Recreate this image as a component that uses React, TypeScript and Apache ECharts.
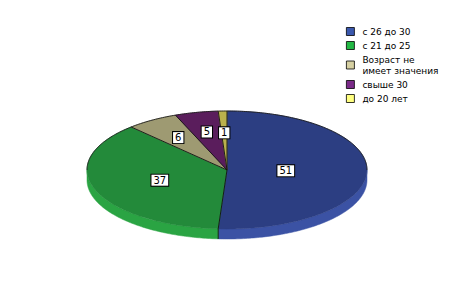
import React, { useEffect, useRef } from "react";
import * as echarts from "echarts";

const categories = ["с 26 до 30", "с 21 до 25", "Возраст не\nимеет значения", "свыше 30", "до 20 лет"];
const values = [51, 37, 6, 5, 1];

const topColors = ["#2c3e82", "#238a3a", "#9e9a72", "#5a1d5c", "#bab14c"];
const sideColors = ["#3b52a4", "#2aa443", "#b6b184", "#6e2570", "#d2c95a"];
const legendColors = ["#3a58ad", "#22b844", "#d6d0a2", "#7a2a88", "#ffff80"];
const labelRadius = [0.42, 0.51, 0.65, 0.66, 0.63];

const CX = 227;
const CY = 170;
const RX = 140;
const RY = 59;
const DEPTH = 10;

export default function App() {
  const ref = useRef<HTMLDivElement>(null);
  useEffect(() => {
    if (!ref.current) return;
    const chart = echarts.init(ref.current, undefined, { renderer: "svg" });
    const total = values.reduce((a, b) => a + b, 0);
    const cum: number[] = [0];
    values.forEach((v, i) => cum.push(cum[i] + v));
    const pt = (t: number, dy = 0) => [CX + RX * Math.sin(t), CY - RY * Math.cos(t) + dy];
    const arc = (a: number, b: number, dy = 0) => {
      const n = Math.max(2, Math.ceil((b - a) / 0.015));
      const out: number[][] = [];
      for (let k = 0; k <= n; k++) out.push(pt(a + ((b - a) * k) / n, dy));
      return out;
    };
    const inFront = (t: number) => {
      const m = ((t % (Math.PI * 2)) + Math.PI * 2) % (Math.PI * 2);
      return m > Math.PI / 2 && m < (Math.PI * 3) / 2;
    };

    const series = categories.map((name, i) => ({
      type: "custom",
      name,
      coordinateSystem: "none",
      data: [values[i]],
      renderItem: () => {
        const a = (cum[i] / total) * Math.PI * 2;
        const b = (cum[i + 1] / total) * Math.PI * 2;
        const children: any[] = [];
        const sa = Math.max(a, Math.PI / 2);
        const sb = Math.min(b, (Math.PI * 3) / 2);
        if (sb > sa) {
          const topArc = arc(sa, sb, 0);
          const botArc = arc(sa, sb, DEPTH).reverse();
          children.push({
            type: "polygon",
            shape: { points: topArc.concat(botArc) },
            style: { fill: sideColors[i], stroke: sideColors[i], lineWidth: 0.5 },
          });
        }
        children.push({
          type: "polygon",
          shape: { points: [[CX, CY]].concat(arc(a, b, 0)) },
          style: { fill: topColors[i], stroke: topColors[i], lineWidth: 0.5 },
        });
        // back outline
        const ba = Math.max(a, (Math.PI * 3) / 2);
        const bb = b;
        if (a < Math.PI / 2) {
          children.push({
            type: "polyline",
            shape: { points: arc(a, Math.min(b, Math.PI / 2), 0) },
            style: { stroke: "#1a1a1a", lineWidth: 0.9, fill: "none" },
          });
        }
        if (bb > ba) {
          children.push({
            type: "polyline",
            shape: { points: arc(ba, bb, 0) },
            style: { stroke: "#1a1a1a", lineWidth: 0.9, fill: "none" },
          });
        }
        // radial edge at start
        const p = pt(a);
        children.push({
          type: "line",
          z2: 10,
          shape: { x1: CX, y1: CY, x2: p[0], y2: p[1] },
          style: { stroke: "#111", lineWidth: 0.9 },
        });
        if (inFront(a)) {
          children.push({
            type: "line",
            z2: 10,
            shape: { x1: p[0], y1: p[1], x2: p[0], y2: p[1] + DEPTH },
            style: { stroke: "#111", lineWidth: 0.9 },
          });
        }
        const m = (a + b) / 2;
        const r = labelRadius[i];
        children.push({
          type: "text",
          z2: 100,
          x: CX + RX * r * Math.sin(m),
          y: CY - RY * r * Math.cos(m),
          style: {
            text: String(values[i]),
            align: "center",
            verticalAlign: "middle",
            fontSize: 10,
            fontFamily: "DejaVu Sans",
            fill: "#000",
            backgroundColor: "#fff",
            borderColor: "#000",
            borderWidth: 1,
            padding: [1, 2, 0, 2],
          },
        });
        return { type: "group", children };
      },
    }));

    chart.setOption({
      animation: false,
      backgroundColor: "#ffffff",
      legend: {
        orient: "vertical",
        left: 346,
        top: 26,
        padding: 0,
        itemWidth: 8,
        itemHeight: 8,
        itemGap: 3,
        icon: "rect",
        selectedMode: false,
        itemStyle: { borderColor: "#000", borderWidth: 0.8 },
        textStyle: { fontSize: 9, fontFamily: "DejaVu Sans", color: "#000", lineHeight: 11, padding: [0, 0, 0, 3] },
        data: categories.map((name, i) => ({ name, itemStyle: { color: legendColors[i], borderColor: "#000", borderWidth: 0.8 } })),
      },
      series,
    });
    return () => chart.dispose();
  }, []);
  return (
    <div
      ref={ref}
      style={{ position: "fixed", left: 0, top: 0, width: 454, height: 286, background: "#fff" }}
    />
  );
}
